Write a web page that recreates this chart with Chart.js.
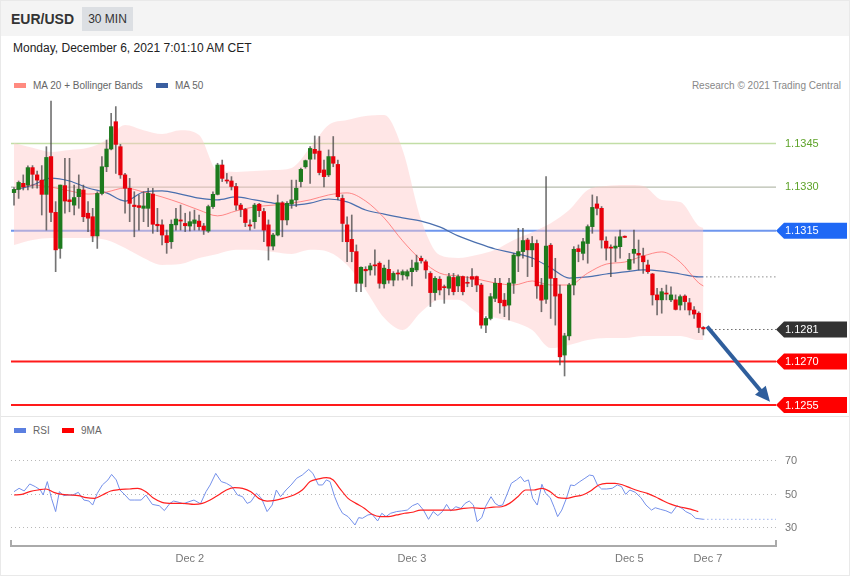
<!DOCTYPE html>
<html>
<head>
    <title>EUR/USD 30 MIN</title>
    <script src="https://cdn.jsdelivr.net/npm/chart.js"></script>
    <style>
        body {
            margin: 0;
            width: 850px;
            height: 576px;
            position: relative;
            overflow: hidden;
            background: #fff;
            font-family: "Liberation Sans", Arial, sans-serif;
        }
        #frame { position: absolute; left: 0; top: 0; width: 848px; height: 574px; border: 1px solid #e9e9e9; }
        #header { position: absolute; left: 1px; top: 1px; width: 848px; height: 35px; background: #f4f4f4; }
        #pair { position: absolute; left: 10px; top: 10px; font-size: 14px; font-weight: bold; color: #333; }
        #tf { position: absolute; left: 81px; top: 6px; width: 51px; height: 24px; line-height: 24px; text-align: center; background: #dcdfe3; font-size: 12px; color: #333; }
        #date { position: absolute; left: 13px; top: 41px; font-size: 12px; color: #222; }
        .legend { position: absolute; font-size: 10px; color: #666; white-space: nowrap; }
        .sw { display: inline-block; width: 12px; height: 5px; margin-right: 7px; vertical-align: 1px; }
        #credit { position: absolute; right: 9px; top: 80px; font-size: 10px; color: #888; }
        #sep { position: absolute; left: 1px; top: 416px; width: 848px; height: 1px; background: #e6e6e6; }
        canvas { position: absolute; left: 0; }
    </style>
</head>
<body>
    <div id="frame"></div>
    <div id="header">
        <div id="pair">EUR/USD</div>
        <div id="tf">30 MIN</div>
    </div>
    <div id="date">Monday, December 6, 2021 7:01:10 AM CET</div>
    <div class="legend" style="left:14px; top:80px;"><span class="sw" style="background:#ff8a80"></span>MA 20 + Bollinger Bands</div>
    <div class="legend" style="left:156px; top:80px;"><span class="sw" style="background:#3a5fa0"></span>MA 50</div>
    <div id="credit">Research © 2021 Trading Central</div>
    <canvas id="price" width="850" height="321" style="top:95px"></canvas>
    <div id="sep"></div>
    <div class="legend" style="left:14px; top:425px;"><span class="sw" style="background:#5b7fe0"></span>RSI</div>
    <div class="legend" style="left:62px; top:425px;"><span class="sw" style="background:#f00"></span>9MA</div>
    <canvas id="rsi" width="850" height="136" style="top:440px"></canvas>

    <script>
        Chart.defaults.font.family = '"Liberation Sans", Arial, sans-serif';

        // 30 min candles, oldest first
        const opens = [
            1.13281,1.13292,1.13313,1.13307,1.13367,1.13342,1.13324,1.13275,1.13405,1.13213,1.13089,1.13305,1.13256,1.13238,1.13267,1.13290,1.13210,1.13198,1.13132,1.13278,1.13370,1.13431,1.13525,1.13439,1.13342,1.13296,
            1.13238,1.13236,1.13227,1.13227,1.13276,1.13172,1.13170,1.13133,1.13112,1.13170,1.13187,1.13175,1.13166,1.13175,1.13183,1.13166,1.13149,1.13233,1.13275,1.13376,1.13324,1.13321,1.13302,
            1.13238,1.13223,1.13170,1.13181,1.13241,1.13216,1.13170,1.13097,1.13135,1.13246,1.13187,1.13242,1.13256,1.13319,1.13370,1.13396,1.13430,1.13424,1.13359,1.13342,1.13405,1.13378,1.13261,1.13170,
            1.13120,1.13078,1.12969,1.13017,1.13015,1.13032,1.13038,1.12967,1.13017,1.12980,1.13003,1.12998,1.12994,1.13009,1.13015,1.13055,1.13043,1.13003,1.12937,1.12983,1.12957,1.12952,1.12989,1.12960,
            1.12992,1.12972,1.12992,1.12992,1.12963,1.12825,1.12848,1.12917,1.12969,1.12911,1.12894,1.12969,1.13063,1.13078,1.13118,1.13084,1.13106,1.12963,1.12914,1.13100,1.12986,1.12932,1.12722,1.12788,1.12963,
            1.13088,1.13072,1.13106,1.13164,1.13242,1.13227,1.13114,1.13093,1.13090,1.13095,1.13131,1.13017,1.13072,1.13072,1.13063,1.13032,1.13001,1.12929,1.12912,1.12934,1.12912,1.12912,1.12894,1.12925,1.12902,1.12877,1.12866,1.12817
        ];
        const highs = [
            1.13298,1.13321,1.13342,1.13373,1.13374,1.13355,1.13374,1.13439,1.13596,1.13250,1.13307,1.13399,1.13399,1.13307,1.13342,1.13307,1.13250,1.13227,1.13284,1.13405,1.13462,1.13554,1.13577,1.13447,1.13347,1.13330,
            1.13284,1.13273,1.13284,1.13296,1.13296,1.13227,1.13187,1.13152,1.13187,1.13227,1.13238,1.13210,1.13215,1.13221,1.13204,1.13175,1.13238,1.13284,1.13382,1.13393,1.13347,1.13336,1.13313,
            1.13244,1.13227,1.13187,1.13244,1.13244,1.13227,1.13187,1.13141,1.13273,1.13250,1.13250,1.13324,1.13324,1.13365,1.13393,1.13439,1.13476,1.13474,1.13393,1.13428,1.13474,1.13393,1.13273,1.13198,
            1.13204,1.13101,1.13026,1.13026,1.13038,1.13084,1.13043,1.13032,1.13049,1.13009,1.13015,1.13015,1.13015,1.13049,1.13066,1.13063,1.13049,1.13009,1.12992,1.12992,1.12963,1.13003,1.13003,1.12998,
            1.12994,1.12992,1.13020,1.12994,1.12969,1.12854,1.12934,1.12986,1.12986,1.12934,1.12986,1.13072,1.13158,1.13158,1.13124,1.13130,1.13118,1.12986,1.13336,1.13106,1.13055,1.12963,1.12797,1.12969,1.13095,
            1.13101,1.13124,1.13170,1.13273,1.13267,1.13233,1.13129,1.13101,1.13129,1.13152,1.13132,1.13072,1.13152,1.13118,1.13090,1.13049,1.13003,1.12952,1.12952,1.12963,1.12957,1.12929,1.12929,1.12929,1.12917,1.12889,1.12871,1.12820
        ];
        const lows = [
            1.13238,1.13261,1.13290,1.13290,1.13296,1.13296,1.13204,1.13152,1.13181,1.13009,1.13055,1.13210,1.13215,1.13204,1.13227,1.13181,1.13147,1.13112,1.13089,1.13273,1.13353,1.13428,1.13347,1.13330,1.13210,1.13181,
            1.13129,1.13152,1.13181,1.13164,1.13141,1.13147,1.13101,1.13072,1.13089,1.13152,1.13152,1.13147,1.13149,1.13152,1.13152,1.13137,1.13144,1.13227,1.13273,1.13319,1.13313,1.13290,1.13221,
            1.13198,1.13164,1.13152,1.13158,1.13198,1.13112,1.13049,1.13084,1.13132,1.13129,1.13170,1.13227,1.13233,1.13301,1.13365,1.13313,1.13396,1.13342,1.13301,1.13336,1.13370,1.13256,1.13112,1.13043,
            1.13043,1.12940,1.12940,1.12957,1.12997,1.12997,1.12952,1.12952,1.12969,1.12960,1.12980,1.12980,1.12983,1.12960,1.13009,1.13038,1.12986,1.12889,1.12911,1.12929,1.12900,1.12929,1.12929,1.12940,
            1.12929,1.12957,1.12957,1.12940,1.12814,1.12799,1.12843,1.12906,1.12866,1.12854,1.12843,1.12934,1.13009,1.13055,1.12992,1.13026,1.12917,1.12871,1.12900,1.12848,1.12825,1.12688,1.12650,1.12774,1.12929,
            1.13043,1.13049,1.13038,1.13141,1.13204,1.13090,1.13049,1.12992,1.13043,1.13055,1.13126,1.13015,1.13038,1.13015,1.13003,1.13003,1.12894,1.12860,1.12866,1.12912,1.12906,1.12877,1.12877,1.12877,1.12860,1.12848,1.12799,1.12791
        ];
        const closes = [
            1.13292,1.13316,1.13301,1.13367,1.13344,1.13324,1.13275,1.13402,1.13213,1.13084,1.13307,1.13252,1.13250,1.13264,1.13293,1.13198,1.13193,1.13132,1.13278,1.13370,1.13431,1.13508,1.13447,1.13342,1.13296,1.13244,
            1.13233,1.13230,1.13235,1.13279,1.13172,1.13167,1.13135,1.13109,1.13172,1.13190,1.13183,1.13167,1.13181,1.13187,1.13164,1.13152,1.13233,1.13275,1.13376,1.13330,1.13321,1.13302,1.13238,
            1.13223,1.13178,1.13166,1.13238,1.13219,1.13152,1.13097,1.13135,1.13246,1.13187,1.13244,1.13256,1.13296,1.13361,1.13391,1.13433,1.13416,1.13350,1.13336,1.13405,1.13382,1.13267,1.13175,1.13112,
            1.13078,1.12969,1.13024,1.13012,1.13029,1.13029,1.12969,1.13021,1.12980,1.13003,1.13001,1.13009,1.13009,1.13021,1.13040,1.13047,1.13015,1.12937,1.12986,1.12946,1.12954,1.12992,1.12940,1.12992,
            1.12940,1.12969,1.12983,1.12963,1.12825,1.12848,1.12923,1.12969,1.12902,1.12891,1.12970,1.13066,1.13078,1.13116,1.13084,1.13106,1.12960,1.12911,1.13097,1.12986,1.12925,1.12716,1.12788,1.12963,1.13086,
            1.13078,1.13112,1.13164,1.13230,1.13227,1.13118,1.13090,1.13090,1.13097,1.13129,1.13127,1.13051,1.13086,1.13066,1.13043,1.13009,1.12929,1.12912,1.12940,1.12932,1.12929,1.12879,1.12923,1.12906,1.12877,1.12863,1.12817,1.12812
        ];

        // indicator lines, read every 4 candles
        const lineIdx = [0,4,8,12,16,20,24,28,32,36,40,44,48,52,56,60,64,68,72,76,80,84,88,92,96,100,104,108,112,116,120,124,128,132,136,140,144,148,149];
        const upperBand = [1.13452,1.13435,1.13421,1.13428,1.13435,1.13462,1.13514,1.13496,1.13483,1.13496,1.13479,1.13355,1.13352,1.13355,1.13359,1.13366,1.13435,1.13514,1.13531,1.13545,1.13548,1.13428,1.13187,1.13066,1.13056,1.13066,1.13084,1.13118,1.13145,1.13176,1.13221,1.13290,1.13304,1.13307,1.13304,1.13256,1.13249,1.13166,1.13159];
        const lowerBand = [1.13101,1.13118,1.13125,1.13125,1.13125,1.13118,1.13090,1.13056,1.13032,1.13035,1.13056,1.13070,1.13084,1.13084,1.13077,1.13070,1.13084,1.13077,1.13032,1.12946,1.12850,1.12808,1.12870,1.12912,1.12912,1.12870,1.12850,1.12836,1.12808,1.12746,1.12757,1.12774,1.12781,1.12781,1.12788,1.12788,1.12788,1.12774,1.12774];
        const ma20 = [1.13290,1.13307,1.13300,1.13287,1.13276,1.13283,1.13297,1.13283,1.13266,1.13245,1.13221,1.13201,1.13218,1.13232,1.13238,1.13245,1.13256,1.13273,1.13280,1.13252,1.13194,1.13115,1.13049,1.13004,1.12994,1.12984,1.12970,1.12963,1.12977,1.12963,1.12963,1.13004,1.13035,1.13042,1.13063,1.13077,1.13042,1.12970,1.12960];
        const ma50 = [1.13290,1.13307,1.13331,1.13321,1.13297,1.13280,1.13252,1.13283,1.13287,1.13276,1.13262,1.13256,1.13266,1.13256,1.13245,1.13238,1.13245,1.13259,1.13249,1.13221,1.13207,1.13194,1.13183,1.13163,1.13132,1.13108,1.13087,1.13073,1.13056,1.13022,1.12987,1.12991,1.13001,1.13008,1.13015,1.13011,1.13001,1.12991,1.12991];

        // price levels on the right
        const levelValues = [1.1345, 1.1330, 1.1315, 1.1270, 1.1255];
        const levelLabels = ['1.1345', '1.1330', '1.1315', '1.1270', '1.1255'];
        const lastPrice = 1.1281;
        const arrowFrom = [149.8, 1.1282];
        const arrowTo = [163.4, 1.12561];

        // RSI panel
        const rsiIdx = [0,1.1,2.2,3.4,4.6,5.7,6.3,7.2,8.1,9.0,9.8,10.7,11.6,12.7,13.9,15.1,16.2,17.0,18.0,19.1,20.3,21.1,22.1,22.9,24.0,25.0,26.1,27.5,28.5,29.9,31.4,32.5,33.7,34.5,35.7,36.6,37.8,38.9,40.3,41.5,42.4,43.6,44.8,45.9,47.1,48.3,49.4,50.4,51.2,52.4,53.5,54.7,55.8,56.7,57.6,58.8,59.9,61.1,62.3,63.7,64.6,65.8,66.7,67.5,68.3,69.3,70.2,71.0,72.2,73.0,73.7,74.5,75.3,76.5,77.4,78.6,79.5,80.4,81.4,82.7,83.8,85.0,86.1,87.3,88.5,89.6,90.6,91.6,92.6,93.5,94.4,95.5,96.6,97.5,98.4,99.3,100.1,101.1,101.9,103.1,104.0,104.8,105.6,106.5,107.5,108.6,109.5,110.3,111.2,112.1,113.1,114.1,114.9,115.9,116.8,117.5,118.4,119.4,120.3,121.1,122.3,123.4,124.4,125.2,126.1,127.0,128.1,129.3,130.4,131.3,132.2,133.1,134.3,135.5,136.6,137.8,138.6,139.8,140.9,142.1,143.3,144.4,145.2,146.4,147.3,149];
        const rsiVal = [51.1,53.1,51.5,55.7,54.1,52.1,49.1,57.1,47.1,39.2,51.1,48.7,49.1,49.1,50.7,46.1,45.5,43.1,50.1,55.1,58.1,61.4,58.1,52.1,49.1,46.1,46.1,46.1,49.1,43.5,42.7,39.8,44.1,45.5,44.7,43.9,45.1,46.1,43.9,51.1,55.1,62.0,57.1,56.1,54.1,49.1,48.1,44.1,45.1,50.1,47.1,39.2,43.1,52.1,48.1,52.1,55.1,59.1,61.0,64.4,62.0,55.1,55.1,58.1,57.1,48.1,42.1,38.2,36.2,33.6,31.2,35.6,35.2,37.2,37.6,33.6,38.2,36.2,38.2,39.2,39.6,40.1,42.7,44.1,40.1,34.6,39.2,36.8,39.2,43.5,39.6,42.1,41.1,44.1,45.5,43.1,33.2,35.6,42.1,48.1,44.1,42.7,43.1,49.1,56.1,58.1,60.1,57.1,58.1,47.1,43.1,55.5,50.1,47.5,41.5,36.2,40.1,47.1,55.1,54.7,57.1,59.1,61.0,60.6,55.1,52.7,52.7,53.1,55.1,54.1,49.5,52.1,50.7,47.5,43.1,40.1,41.5,40.5,39.7,38.2,42.7,41.1,39.2,37.6,35.2,34.6];
        const maIdx = [0,1.7,3.4,5.2,6.9,8.6,10.4,12.1,13.9,15.6,17.4,19.1,20.9,22.6,25.0,26.7,28.5,30.2,32.0,34.3,36.6,38.9,40.7,42.4,44.2,45.9,47.7,49.4,51.2,52.9,54.7,56.4,58.2,60.5,62.3,64.0,65.8,67.5,69.0,70.4,72.2,73.9,75.7,77.4,79.2,80.9,82.7,84.4,86.1,87.9,90.2,92.6,94.9,97.2,99.0,101.3,103.6,105.4,107.1,108.9,110.6,112.4,114.1,115.9,117.6,119.4,121.1,122.9,124.6,126.4,128.1,129.9,131.6,133.4,135.1,136.9,138.6,140.4,142.1,143.8,146.2,147.9];
        const maVal = [49.1,49.5,51.1,52.1,52.7,50.7,49.5,49.1,48.7,47.5,47.1,49.1,51.5,52.3,52.7,53.1,51.1,47.1,44.7,44.1,44.1,43.5,44.1,46.1,49.1,52.1,53.5,53.1,51.1,47.1,45.5,45.9,47.1,49.1,52.1,57.1,58.7,59.5,58.1,53.1,47.1,44.1,41.2,37.6,36.2,36.2,37.2,38.2,38.8,40.1,40.1,40.1,40.1,41.1,41.5,41.1,41.9,42.1,44.1,48.1,52.1,52.1,53.1,51.1,47.5,47.1,48.1,49.1,51.5,55.1,56.1,56.1,55.1,53.1,51.5,50.1,48.1,45.5,43.5,42.1,40.7,39.2];
        const rsiLevels = [70, 50, 30];

        // x axis dates
        const tickIdx = [38, 86, 133, 150];
        const tickLabels = ['Dec 2', 'Dec 3', 'Dec 5', 'Dec 7'];

        const xMin = -0.65, xMax = 164.7;
        const pts = (xs, ys) => xs.map((x, i) => ({ x: x, y: ys[i] }));

        const upColor = '#1d7a1d';
        const downColor = '#e8000b';

        function drawTag(ctx, x, y, color, text) {
            ctx.fillStyle = color;
            ctx.beginPath();
            ctx.moveTo(x, y);
            ctx.lineTo(x + 8, y - 8);
            ctx.lineTo(x + 71, y - 8);
            ctx.lineTo(x + 71, y + 8);
            ctx.lineTo(x + 8, y + 8);
            ctx.closePath();
            ctx.fill();
            ctx.fillStyle = '#fff';
            ctx.fillText(text, x + 9, y + 0.5);
        }

        const levelsPlugin = {
            id: 'levels',
            beforeDatasetsDraw(chart) {
                const ctx = chart.ctx, a = chart.chartArea, ys = chart.scales.y;
                const colors = ['#c2dea6', '#b7bdae', '#6e96ee', '#ff1a1a', '#ff1a1a'];
                const widths = [1.5, 1.2, 2, 2, 2];
                ctx.save();
                levelValues.forEach((v, i) => {
                    const y = ys.getPixelForValue(v);
                    ctx.strokeStyle = colors[i];
                    ctx.lineWidth = widths[i];
                    ctx.beginPath();
                    ctx.moveTo(a.left, y);
                    ctx.lineTo(a.right, y);
                    ctx.stroke();
                });
                ctx.restore();
            },
            afterDatasetsDraw(chart) {
                const ctx = chart.ctx, a = chart.chartArea, xs = chart.scales.x, ys = chart.scales.y;
                ctx.save();
                // dotted extensions
                ctx.setLineDash([1, 3]);
                ctx.lineWidth = 1;
                ctx.strokeStyle = '#555';
                let y = ys.getPixelForValue(ma50[ma50.length - 1]);
                ctx.beginPath();
                ctx.moveTo(xs.getPixelForValue(lineIdx[lineIdx.length - 1]) + 3, y);
                ctx.lineTo(a.right, y);
                ctx.stroke();
                ctx.strokeStyle = '#222';
                y = ys.getPixelForValue(lastPrice);
                ctx.beginPath();
                ctx.moveTo(xs.getPixelForValue(closes.length - 1) + 4, y);
                ctx.lineTo(a.right, y);
                ctx.stroke();
                ctx.setLineDash([]);

                // forecast arrow
                const x1 = xs.getPixelForValue(arrowFrom[0]), y1 = ys.getPixelForValue(arrowFrom[1]);
                const x2 = xs.getPixelForValue(arrowTo[0]), y2 = ys.getPixelForValue(arrowTo[1]);
                const ang = Math.atan2(y2 - y1, x2 - x1);
                ctx.strokeStyle = '#2f5e9c';
                ctx.fillStyle = '#2f5e9c';
                ctx.lineWidth = 4;
                ctx.beginPath();
                ctx.moveTo(x1, y1);
                ctx.lineTo(x2 - 10 * Math.cos(ang), y2 - 10 * Math.sin(ang));
                ctx.stroke();
                ctx.beginPath();
                ctx.moveTo(x2, y2);
                ctx.lineTo(x2 - 15 * Math.cos(ang) + 7 * Math.sin(ang), y2 - 15 * Math.sin(ang) - 7 * Math.cos(ang));
                ctx.lineTo(x2 - 15 * Math.cos(ang) - 7 * Math.sin(ang), y2 - 15 * Math.sin(ang) + 7 * Math.cos(ang));
                ctx.closePath();
                ctx.fill();

                // labels and tags
                ctx.font = '11px "Liberation Sans", Arial, sans-serif';
                ctx.textBaseline = 'middle';
                ctx.textAlign = 'left';
                const tx = a.right + 9;
                ctx.fillStyle = '#5ea32a';
                ctx.fillText(levelLabels[0], tx, ys.getPixelForValue(levelValues[0]));
                ctx.fillText(levelLabels[1], tx, ys.getPixelForValue(levelValues[1]));
                drawTag(ctx, a.right, ys.getPixelForValue(levelValues[2]), '#1f68f5', levelLabels[2]);
                drawTag(ctx, a.right, ys.getPixelForValue(lastPrice), '#333', lastPrice.toFixed(4));
                drawTag(ctx, a.right, ys.getPixelForValue(levelValues[3]), '#ff0000', levelLabels[3]);
                drawTag(ctx, a.right, ys.getPixelForValue(levelValues[4]), '#ff0000', levelLabels[4]);
                ctx.restore();
            }
        };

        const priceChart = new Chart(document.getElementById('price'), {
            type: 'bar',
            data: {
                datasets: [
                    {
                        data: opens.map((o, i) => ({ x: i, y: [o, closes[i]] })),
                        backgroundColor: opens.map((o, i) => closes[i] >= o ? upColor : downColor),
                        barThickness: 3.6,
                        minBarLength: 1,
                        grouped: false,
                        order: 0
                    },
                    {
                        data: lows.map((l, i) => ({ x: i, y: [l, highs[i]] })),
                        backgroundColor: 'rgba(70,70,70,0.75)',
                        barThickness: 1,
                        grouped: false,
                        order: 1
                    },
                    {
                        type: 'line',
                        data: pts(lineIdx, ma20),
                        borderColor: 'rgba(255,110,110,0.8)',
                        borderWidth: 1,
                        pointRadius: 0,
                        cubicInterpolationMode: 'monotone',
                        order: 2
                    },
                    {
                        type: 'line',
                        data: pts(lineIdx, ma50),
                        borderColor: '#4a6fae',
                        borderWidth: 1.2,
                        pointRadius: 0,
                        cubicInterpolationMode: 'monotone',
                        order: 3
                    },
                    {
                        type: 'line',
                        data: pts(lineIdx, upperBand),
                        borderWidth: 0,
                        borderColor: 'rgba(0,0,0,0)',
                        backgroundColor: 'rgba(255,200,200,0.45)',
                        pointRadius: 0,
                        cubicInterpolationMode: 'monotone',
                        fill: '+1',
                        order: 4
                    },
                    {
                        type: 'line',
                        data: pts(lineIdx, lowerBand),
                        borderWidth: 0,
                        borderColor: 'rgba(0,0,0,0)',
                        pointRadius: 0,
                        cubicInterpolationMode: 'monotone',
                        order: 5
                    }
                ]
            },
            options: {
                responsive: false,
                animation: false,
                layout: { padding: { left: 11, right: 74, top: 0, bottom: 0 } },
                plugins: { legend: { display: false }, tooltip: { enabled: false } },
                scales: {
                    x: { type: 'linear', min: xMin, max: xMax, offset: false, display: false },
                    y: { min: 1.125123, max: 1.136169, display: false }
                }
            },
            plugins: [levelsPlugin]
        });

        const rsiPlugin = {
            id: 'rsiExtras',
            beforeDatasetsDraw(chart) {
                const ctx = chart.ctx, a = chart.chartArea, ys = chart.scales.y;
                ctx.save();
                ctx.setLineDash([1, 3]);
                ctx.strokeStyle = '#b8b8b8';
                ctx.lineWidth = 1;
                ctx.font = '11px "Liberation Sans", Arial, sans-serif';
                ctx.textBaseline = 'middle';
                ctx.fillStyle = '#777';
                rsiLevels.forEach(v => {
                    const y = Math.round(ys.getPixelForValue(v)) + 0.5;
                    ctx.beginPath();
                    ctx.moveTo(a.left, y);
                    ctx.lineTo(a.right, y);
                    ctx.stroke();
                    ctx.fillText(String(v), a.right + 9, y);
                });
                ctx.restore();
            },
            afterDatasetsDraw(chart) {
                const ctx = chart.ctx, a = chart.chartArea, xs = chart.scales.x, ys = chart.scales.y;
                ctx.save();
                ctx.setLineDash([1, 3]);
                ctx.strokeStyle = '#6d8de8';
                ctx.lineWidth = 1;
                const y = ys.getPixelForValue(rsiVal[rsiVal.length - 1]);
                ctx.beginPath();
                ctx.moveTo(xs.getPixelForValue(rsiIdx[rsiIdx.length - 1]), y);
                ctx.lineTo(a.right, y);
                ctx.stroke();
                ctx.setLineDash([]);
                // axis end ticks
                ctx.strokeStyle = '#aaa';
                ctx.lineWidth = 2;
                ctx.beginPath();
                ctx.moveTo(a.left, a.bottom + 1);
                ctx.lineTo(a.left, a.bottom - 6);
                ctx.moveTo(a.right, a.bottom + 1);
                ctx.lineTo(a.right, a.bottom - 6);
                ctx.stroke();
                ctx.restore();
            }
        };

        const rsiChart = new Chart(document.getElementById('rsi'), {
            type: 'line',
            data: {
                datasets: [
                    {
                        data: pts(maIdx, maVal),
                        borderColor: '#ff2020',
                        borderWidth: 1.2,
                        pointRadius: 0,
                        cubicInterpolationMode: 'monotone'
                    },
                    {
                        data: pts(rsiIdx, rsiVal),
                        borderColor: '#7490ea',
                        borderWidth: 1,
                        pointRadius: 0
                    }
                ]
            },
            options: {
                responsive: false,
                animation: false,
                layout: { padding: { left: 11, right: 74, top: 0, bottom: 0 } },
                plugins: { legend: { display: false }, tooltip: { enabled: false } },
                scales: {
                    x: {
                        type: 'linear',
                        min: xMin,
                        max: xMax,
                        afterBuildTicks: (scale) => { scale.ticks = tickIdx.map(v => ({ value: v })); },
                        afterFit: (scale) => { scale.height = 30; },
                        ticks: {
                            color: '#777',
                            font: { size: 11 },
                            padding: 6,
                            maxRotation: 0,
                            autoSkip: false,
                            callback: (value, index) => tickLabels[index]
                        },
                        grid: { display: false, drawTicks: false },
                        border: { display: true, color: '#aaa', width: 2 }
                    },
                    y: { min: 18.66, max: 81.94, display: false }
                }
            },
            plugins: [rsiPlugin]
        });
    </script>
</body>
</html>
